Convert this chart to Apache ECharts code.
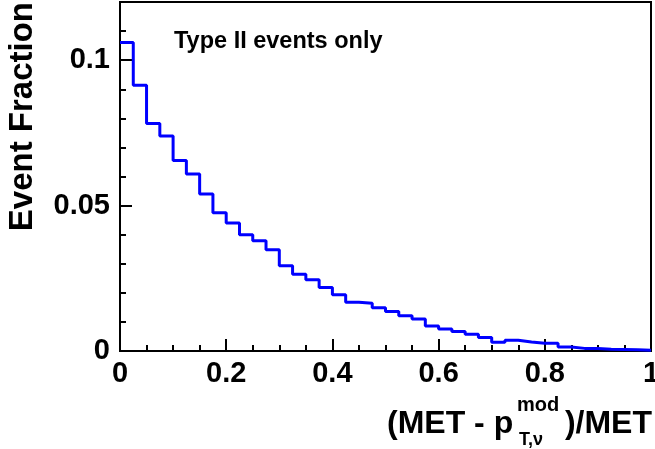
<!DOCTYPE html>
<html>
<head>
<meta charset="utf-8">
<script src="https://cdn.jsdelivr.net/npm/echarts@6/dist/echarts.min.js"></script>
<style>
html,body{margin:0;padding:0;background:#fff;}
#c{width:655px;height:449px;}
</style>
</head>
<body>
<div id="c"></div>
<script>
// Bin edges (40 bins of width 0.025 from 0 to 1)
const binEdges = [0,0.025,0.05,0.075,0.1,0.125,0.15,0.175,0.2,0.225,0.25,0.275,0.3,0.325,0.35,0.375,0.4,0.425,0.45,0.475,0.5,0.525,0.55,0.575,0.6,0.625,0.65,0.675,0.7,0.725,0.75,0.775,0.8,0.825,0.85,0.875,0.9,0.925,0.95,0.975,1.0];
// Event fraction per bin
const eventFraction = [0.1061,0.0914,0.0782,0.0739,0.0655,0.0609,0.0540,0.0475,0.0440,0.0400,
  0.0379,0.0348,0.0293,0.0264,0.0245,0.0218,0.0193,0.0168,0.0164,0.0149,
  0.0136,0.0121,0.0110,0.0086,0.0076,0.0067,0.0058,0.0046,0.0030,0.0037,
  0.0031,0.0027,0.0027,0.0014,0.0009,0.0009,0.0006,0.0005,0.0004,0.0003];
const xTickLabels = {0:'0',0.2:'0.2',0.4:'0.4',0.6:'0.6',0.8:'0.8',1:'1'};
const yTickLabels = {0:'0',0.05:'0.05',0.1:'0.1'};

const FONT = 'Liberation Sans, Arial, Helvetica, sans-serif';
const stepData = binEdges.map((e, i) => [e, eventFraction[Math.min(i, eventFraction.length - 1)]]);

const chart = echarts.init(document.getElementById('c'), null, {renderer: 'canvas'});
const labelStyle = {color: '#000', fontFamily: FONT, fontWeight: 'bold', fontSize: 29};
chart.setOption({
  backgroundColor: '#fff',
  animation: false,
  grid: {left: 120, right: 4, top: 2, bottom: 98, show: true, borderColor: '#000', borderWidth: 2,
         backgroundColor: 'transparent', outerBoundsMode: 'none', containLabel: false},
  xAxis: {
    type: 'value', min: 0, max: 1, interval: 0.2,
    axisLine: {show: true, lineStyle: {color: '#000', width: 2}},
    axisTick: {show: true, inside: true, length: 12, lineStyle: {color: '#000', width: 2}},
    minorTick: {show: true, splitNumber: 4, length: 6, lineStyle: {color: '#000', width: 2}},
    splitLine: {show: false},
    axisLabel: Object.assign({margin: 8, showMinLabel: true, showMaxLabel: true,
      formatter: v => { const k = Math.round(v * 10) / 10; return xTickLabels[k] !== undefined ? xTickLabels[k] : ''; }}, labelStyle)
  },
  yAxis: [{
    type: 'value', min: 0, max: 0.12, interval: 0.05,
    axisLine: {show: true, lineStyle: {color: '#000', width: 2}},
    axisTick: {show: true, inside: true, length: 12, lineStyle: {color: '#000', width: 2}},
    splitLine: {show: false},
    axisLabel: Object.assign({margin: 10, showMaxLabel: false, showMinLabel: true,
      formatter: v => { const k = Math.round(v * 100) / 100; return yTickLabels[k] !== undefined ? yTickLabels[k] : ''; }}, labelStyle)
  }, {
    type: 'value', min: 0, max: 0.12, interval: 0.01, position: 'left', offset: 0,
    axisLine: {show: false},
    axisTick: {show: true, inside: true, length: 6, lineStyle: {color: '#000', width: 2}},
    splitLine: {show: false},
    axisLabel: {show: false}
  }],
  series: [{
    type: 'line', step: 'end', data: stepData, xAxisIndex: 0, yAxisIndex: 0,
    showSymbol: false, symbol: 'none', clip: true,
    lineStyle: {color: '#0000ff', width: 3}
  }],
  graphic: [
    {type: 'text', x: 23, y: 2, rotation: Math.PI / 2,
     style: {text: 'Event Fraction', font: 'bold 33px ' + FONT, fill: '#000', textAlign: 'right', textVerticalAlign: 'middle'}},
    {type: 'text', x: 174, y: 42,
     style: {text: 'Type II events only', font: 'bold 23.5px ' + FONT, fill: '#000', textAlign: 'left', textVerticalAlign: 'middle'}},
    {type: 'text', x: 387, y: 424,
     style: {text: '(MET - p', font: 'bold 32px ' + FONT, fill: '#000', textAlign: 'left', textVerticalAlign: 'middle'}},
    {type: 'text', x: 517, y: 405,
     style: {text: 'mod', font: 'bold 20px ' + FONT, fill: '#000', textAlign: 'left', textVerticalAlign: 'middle'}},
    {type: 'text', x: 519, y: 440,
     style: {text: 'T,\u03bd', font: 'bold 18px ' + FONT, fill: '#000', textAlign: 'left', textVerticalAlign: 'middle'}},
    {type: 'text', x: 652, y: 424,
     style: {text: ')/MET', font: 'bold 32px ' + FONT, fill: '#000', textAlign: 'right', textVerticalAlign: 'middle'}}
  ]
});
</script>
</body>
</html>
